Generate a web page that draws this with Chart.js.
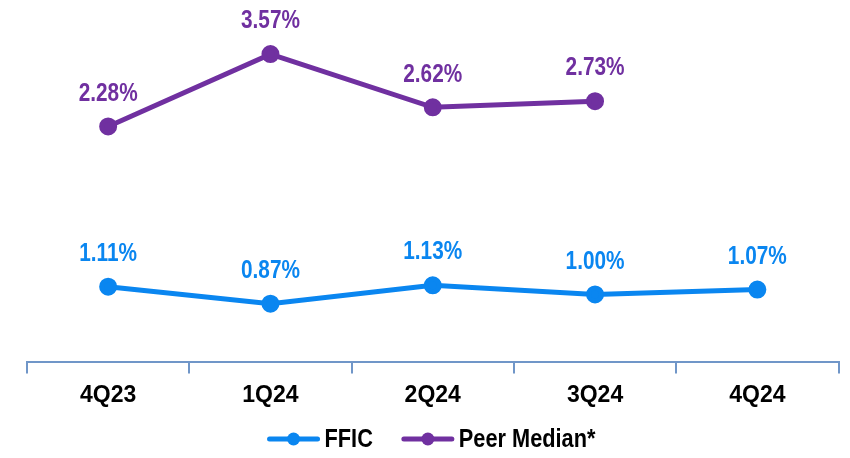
<!DOCTYPE html>
<html>
<head>
<meta charset="utf-8">
<script src="https://cdn.jsdelivr.net/npm/chart.js@4/dist/chart.umd.min.js"></script>
<style>
  html, body { margin: 0; padding: 0; background: #fff; }
  #wrap { width: 850px; height: 458px; }
</style>
</head>
<body>
<div id="wrap"><canvas id="line-chartcanvas" width="850" height="458"></canvas></div>
<script>
// data
var quarters = ["4Q23", "1Q24", "2Q24", "3Q24", "4Q24"];
var ffic = [1.11, 0.87, 1.13, 1.00, 1.07];
var peerMedian = [2.28, 3.57, 2.62, 2.73, null];

var FONT = '"Liberation Sans", Arial, sans-serif';
var blue = "#0a86f0";
var purple = "#7030a0";

//draw text squeezed sideways (no narrow font installed)
function narrowText(ctx, text, x, y, sx, align) {
    ctx.save();
    ctx.translate(x, y);
    ctx.scale(sx, 1);
    ctx.textAlign = align;
    ctx.fillText(text, 0, 0);
    ctx.restore();
}

//value labels above each point
var valueLabels = {
    id: "valueLabels",
    afterDatasetsDraw: function(chart) {
        var ctx = chart.ctx;
        ctx.save();
        ctx.font = "bold 26px " + FONT;
        ctx.textBaseline = "middle";
        chart.data.datasets.forEach(function(ds, i) {
            var meta = chart.getDatasetMeta(i);
            ctx.fillStyle = ds.borderColor;
            meta.data.forEach(function(pt, j) {
                var v = ds.data[j];
                if (v === null) return;
                narrowText(ctx, v.toFixed(2) + "%", pt.x, pt.y - 33, 0.8, "center");
            });
        });
        ctx.restore();
    }
};

//legend: line with a dot, then the name
var lineLegend = {
    id: "lineLegend",
    afterDraw: function(chart) {
        var ctx = chart.ctx;
        var sx = 0.87, sw = 54, gap = 4, between = 28;
        var y = 439;
        ctx.save();
        ctx.font = "bold 25px " + FONT;
        ctx.textBaseline = "middle";
        var items = chart.data.datasets.map(function(ds) {
            return { text: ds.label, color: ds.borderColor, w: ctx.measureText(ds.label).width * sx };
        });
        var total = 0;
        items.forEach(function(it, i) { total += sw + gap + it.w + (i ? between : 0); });
        var x = chart.width / 2 + 6 - total / 2;
        items.forEach(function(it) {
            ctx.strokeStyle = it.color;
            ctx.lineWidth = 5;
            ctx.lineCap = "round";
            ctx.beginPath(); ctx.moveTo(x + 3, y); ctx.lineTo(x + sw - 3, y); ctx.stroke();
            ctx.fillStyle = it.color;
            ctx.beginPath(); ctx.arc(x + sw / 2, y, 6.5, 0, Math.PI * 2); ctx.fill();
            ctx.fillStyle = "#000";
            narrowText(ctx, it.text, x + sw + gap, y + 1, sx, "left");
            x += sw + gap + it.w + between;
        });
        ctx.restore();
    }
};

var ctx = document.getElementById("line-chartcanvas");

var data = {
    labels: quarters,
    datasets: [
        {
            label: "FFIC",
            data: ffic,
            yAxisID: "y",
            borderColor: blue,
            backgroundColor: blue,
            borderWidth: 5,
            pointRadius: 6.5,
            pointHoverRadius: 6.5,
            fill: false,
            tension: 0
        },
        {
            label: "Peer Median*",
            data: peerMedian,
            yAxisID: "y2",
            borderColor: purple,
            backgroundColor: purple,
            borderWidth: 5,
            pointRadius: 6.5,
            pointHoverRadius: 6.5,
            fill: false,
            tension: 0
        }
    ]
};

var options = {
    responsive: false,
    animation: false,
    layout: { padding: { top: 10, left: 27, right: 6, bottom: 41 } },
    plugins: {
        tooltip: { enabled: false },
        legend: { display: false }
    },
    scales: {
        x: {
            offset: true,
            grid: { offset: true, drawOnChartArea: false, tickLength: 11, color: "#7096c8", lineWidth: 2 },
            border: { display: true, color: "#7096c8", width: 2 },
            ticks: { color: "#000", padding: 8, font: { family: FONT, size: 23, weight: "bold" } }
        },
        y: { display: false, min: 0.04, max: 5.0 },
        y2: { display: false, min: -1.93, max: 4.33 }
    }
};

var chart = new Chart(ctx, {
    type: "line",
    data: data,
    options: options,
    plugins: [valueLabels, lineLegend]
});
</script>
</body>
</html>
